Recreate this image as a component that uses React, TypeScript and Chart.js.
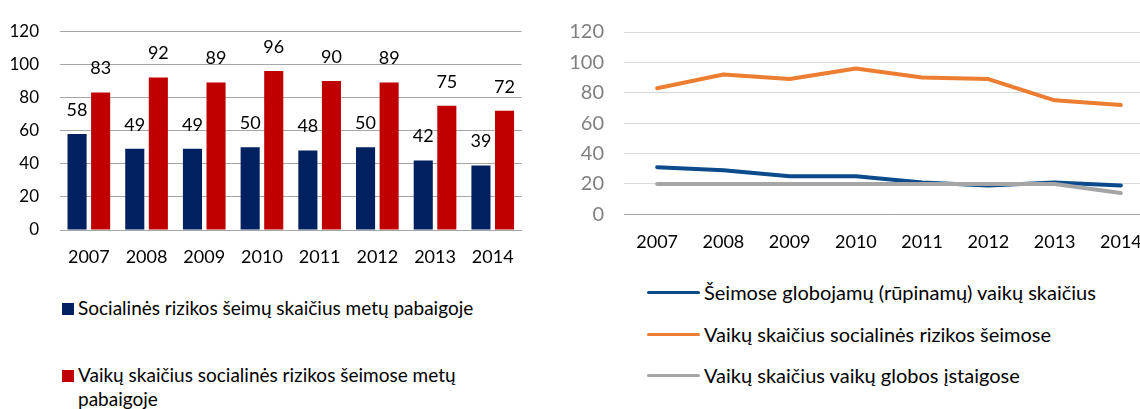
import React, { useEffect, useRef } from 'react';
import { Chart, registerables } from 'chart.js';

Chart.register(...registerables);

const FONT = 'Lato';

const years = ['2007', '2008', '2009', '2010', '2011', '2012', '2013', '2014'];
const yTickValues = [0, 20, 40, 60, 80, 100, 120];

// Left (bar) chart
const riskFamilies = [58, 49, 49, 50, 48, 50, 42, 39];
const riskFamilyChildren = [83, 92, 89, 96, 90, 89, 75, 72];
const barSeriesNames = [
  'Socialinės rizikos šeimų skaičius metų pabaigoje',
  'Vaikų skaičius socialinės rizikos šeimose metų pabaigoje',
];
const barColors = ['#002060', '#C00000'];

// Right (line) chart
const fosterChildren = [31, 29, 25, 25, 21, 19, 21, 19];
const riskChildren = [83, 92, 89, 96, 90, 89, 75, 72];
const institutionChildren = [20, 20, 20, 20, 20, 20, 20, 14];
const lineSeriesNames = [
  'Šeimose globojamų (rūpinamų) vaikų skaičius',
  'Vaikų skaičius socialinės rizikos šeimose',
  'Vaikų skaičius vaikų globos įstaigose',
];
const lineColors = ['#0B4A8B', '#ED7D31', '#A5A5A5'];

const barValueLabels = {
  id: 'barValueLabels',
  afterDatasetsDraw(chart: any) {
    const ctx = chart.ctx;
    ctx.save();
    ctx.font = `18px ${FONT}`;
    ctx.fillStyle = '#000';
    ctx.textAlign = 'center';
    ctx.textBaseline = 'middle';
    chart.data.datasets.forEach((ds: any, i: number) => {
      const meta = chart.getDatasetMeta(i);
      meta.data.forEach((bar: any, j: number) => {
        ctx.fillText(String(ds.data[j]), bar.x, bar.y - 24);
      });
    });
    ctx.restore();
  },
};

function BarChart() {
  const ref = useRef<HTMLCanvasElement>(null);
  useEffect(() => {
    const chart = new Chart(ref.current as HTMLCanvasElement, {
      type: 'bar',
      data: {
        labels: years,
        datasets: [
          { label: barSeriesNames[0], data: riskFamilies, backgroundColor: barColors[0], barPercentage: 0.81, categoryPercentage: 0.817 },
          { label: barSeriesNames[1], data: riskFamilyChildren, backgroundColor: barColors[1], barPercentage: 0.81, categoryPercentage: 0.817 },
        ],
      },
      options: {
        responsive: false,
        animation: false,
        layout: { padding: { top: 24, right: 6, left: 0, bottom: 0 } },
        plugins: { legend: { display: false }, tooltip: { enabled: false } },
        scales: {
          x: {
            grid: { display: false, drawTicks: false },
            border: { display: true, color: '#A6A6A6', width: 1 },
            ticks: { color: '#000', font: { family: FONT, size: 18 }, padding: 16 },
            afterFit: (s: any) => { s.height = 50; },
          },
          y: {
            min: 0,
            max: 120,
            afterBuildTicks: (s: any) => { s.ticks = yTickValues.map((v) => ({ value: v })); },
            ticks: { color: '#000', font: { family: FONT, size: 17 }, padding: 21 },
            grid: { color: '#A6A6A6', drawTicks: false, lineWidth: 1 },
            border: { display: false },
            afterFit: (s: any) => { s.width = 60; },
          },
        },
      },
      plugins: [barValueLabels],
    } as any);
    return () => chart.destroy();
  }, []);
  return <canvas ref={ref} width={530} height={280} style={{ position: 'absolute', left: 0, top: 0, width: 530, height: 280 }} />;
}

function LineChart() {
  const ref = useRef<HTMLCanvasElement>(null);
  useEffect(() => {
    const series = [fosterChildren, riskChildren, institutionChildren];
    const chart = new Chart(ref.current as HTMLCanvasElement, {
      type: 'line',
      data: {
        labels: years,
        datasets: series.map((d, i) => ({
          label: lineSeriesNames[i],
          data: d,
          borderColor: lineColors[i],
          backgroundColor: lineColors[i],
          borderWidth: 4,
          pointRadius: 0,
          tension: 0,
          borderCapStyle: 'round',
          borderJoinStyle: 'round',
          order: 2 - i,
        })),
      },
      options: {
        responsive: false,
        animation: false,
        layout: { padding: { top: 20, right: 6, left: 0, bottom: 0 } },
        plugins: { legend: { display: false }, tooltip: { enabled: false } },
        scales: {
          x: {
            offset: true,
            grid: { display: false, drawTicks: false },
            border: { display: true, color: '#A6A6A6', width: 1 },
            ticks: { color: '#000', font: { family: FONT, size: 18 }, padding: 16.6 },
            afterFit: (s: any) => { s.height = 45.7; },
          },
          y: {
            min: 0,
            max: 120,
            afterBuildTicks: (s: any) => { s.ticks = yTickValues.map((v) => ({ value: v })); },
            ticks: { color: '#808080', font: { family: FONT, size: 20 }, padding: 20 },
            grid: { color: '#D9D9D9', drawTicks: false, lineWidth: 1 },
            border: { display: false },
            afterFit: (s: any) => { s.width = 64; },
          },
        },
      },
    } as any);
    return () => chart.destroy();
  }, []);
  return <canvas ref={ref} width={600} height={260} style={{ position: 'absolute', left: 560, top: 0, width: 600, height: 260 }} />;
}

export default function App() {
  const text: React.CSSProperties = { position: 'absolute', fontFamily: FONT, color: '#000', whiteSpace: 'nowrap' };
  return (
    <div style={{ position: 'absolute', left: 0, top: 0, width: 1140, height: 409, overflow: 'hidden', background: '#fff' }}>
      <BarChart />
      <LineChart />
      {/* left legend */}
      <div style={{ position: 'absolute', left: 62, top: 303, width: 12, height: 12, background: barColors[0] }} />
      <div style={{ ...text, left: 78, top: 296, fontSize: 19, lineHeight: '24px' }}>{barSeriesNames[0]}</div>
      <div style={{ position: 'absolute', left: 62, top: 370, width: 12, height: 12, background: barColors[1] }} />
      <div style={{ ...text, left: 78, top: 363, fontSize: 19, lineHeight: '24.4px', whiteSpace: 'normal', width: 420 }}>{barSeriesNames[1]}</div>
      {/* right legend */}
      {lineSeriesNames.map((name, i) => (
        <React.Fragment key={name}>
          <div style={{ position: 'absolute', left: 647, top: 291 + i * 41.7, width: 53, height: 3, background: lineColors[i], borderRadius: 1.5 }} />
          <div style={{ ...text, left: 704, top: 280 + i * 41.7, fontSize: 20, lineHeight: '24px' }}>{name}</div>
        </React.Fragment>
      ))}
    </div>
  );
}
